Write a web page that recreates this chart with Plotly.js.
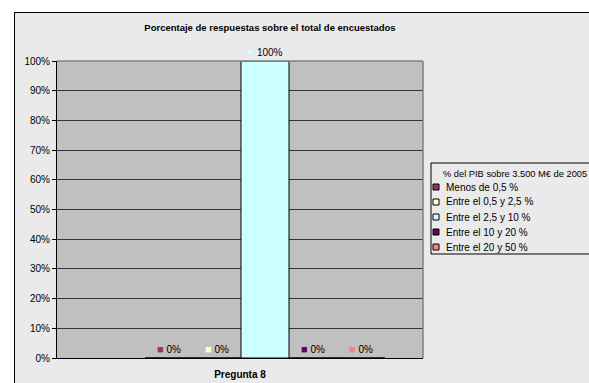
<!DOCTYPE html>
<html>
<head>
<meta charset="utf-8">
<script src="https://cdn.plot.ly/plotly-3.0.1.min.js"></script>
<style>
html,body{margin:0;padding:0;background:#ffffff;overflow:hidden;width:589px;height:383px;}
#chart{position:absolute;left:14px;top:12px;width:620px;height:380px;border-left:1px solid #000;border-top:1px solid #000;background:#eaeaea;}
</style>
</head>
<body>
<div id="chart"></div>
<script>
// ---- data ----
const categories = ["Pregunta 8"];
const seriesNames = ["Menos de 0,5 %", "Entre el 0,5 y 2,5 %", "Entre el 2,5 y 10 %", "Entre el 10 y 20 %", "Entre el 20 y 50 %"];
const seriesValues = [[0], [0], [100], [0], [0]];
const seriesColors = ["#993366", "#FFFFCC", "#CCFFFF", "#660066", "#FF8080"];
const yTickVals = [0, 10, 20, 30, 40, 50, 60, 70, 80, 90, 100];
const chartTitle = "Porcentaje de respuestas sobre el total de encuestados";
const legendTitle = "% del PIB sobre 3.500 M€ de 2005";

// ---- layout geometry (pixels in page) ----
const W = 620, H = 380, OX = 15, OY = 13;
const M = {l: 42, t: 48, r: W - 42 - 366, b: H - 48 - 297};
const PW = 366, PH = 297;
const px = x => (x - OX - M.l) / PW;
const py = y => 1 - (y - OY - M.t) / PH;
const FONT = "Arial, 'Liberation Sans', sans-serif";

const traces = seriesNames.map((name, i) => ({
  type: 'bar',
  name: name,
  x: categories,
  y: seriesValues[i],
  marker: {color: seriesColors[i], line: {color: '#000000', width: 1}},
  text: seriesValues[i].map(v => v + '%'),
  texttemplate: "<span style='color:" + seriesColors[i] + ";font-size:11px'>■</span> %{text}",
  textposition: 'outside',
  textfont: {family: FONT, size: 10, color: '#000'},
  cliponaxis: false,
  showlegend: false,
  hoverinfo: 'name+y'
}));

const shapes = [
  {type: 'line', xref: 'paper', yref: 'paper', x0: 0, x1: 1, y0: 1, y1: 1, line: {color: '#808080', width: 1.5}},
  {type: 'line', xref: 'paper', yref: 'paper', x0: 1, x1: 1, y0: 0, y1: 1, line: {color: '#808080', width: 1.5}},
  {type: 'rect', xref: 'paper', yref: 'paper', x0: px(431), x1: px(640), y0: py(254), y1: py(163), line: {color: '#000', width: 1}, fillcolor: 'rgba(0,0,0,0)'}
];
const annotations = [
  {xref: 'paper', yref: 'paper', x: px(441), y: py(174), xanchor: 'left', yanchor: 'middle', showarrow: false,
   text: legendTitle, font: {family: FONT, size: 9.3, color: '#000'}}
];
seriesNames.forEach((name, i) => {
  const cy = 187 + i * 15;
  shapes.push({type: 'rect', xref: 'paper', yref: 'paper', x0: px(433), x1: px(439), y0: py(cy + 3), y1: py(cy - 3),
    line: {color: '#000', width: 1}, fillcolor: seriesColors[i]});
  annotations.push({xref: 'paper', yref: 'paper', x: px(444), y: py(cy), xanchor: 'left', yanchor: 'middle', showarrow: false,
    text: name, font: {family: FONT, size: 10, color: '#000'}});
});

const layout = {
  width: W, height: H,
  margin: M,
  paper_bgcolor: '#eaeaea',
  plot_bgcolor: '#c0c0c0',
  font: {family: FONT, size: 10, color: '#000'},
  title: {text: '<b>' + chartTitle + '</b>', font: {family: FONT, size: 9.5, color: '#000'},
          xref: 'paper', x: px(270), xanchor: 'center', yref: 'container', y: 1 - (28 - OY) / H, yanchor: 'middle'},
  barmode: 'group',
  bargap: 0.344,
  bargroupgap: 0,
  xaxis: {
    type: 'category',
    range: [-(265 - 57) / PW, (423 - 265) / PW],
    showticklabels: false,
    ticks: '',
    showgrid: false,
    showline: true, linecolor: '#000', linewidth: 1,
    zeroline: false,
    title: {text: '<b>Pregunta 8</b>', font: {family: FONT, size: 10, color: '#000'}, standoff: 12},
    fixedrange: true
  },
  yaxis: {
    range: [0, 100],
    tickvals: yTickVals,
    ticktext: yTickVals.map(v => v + '%'),
    ticks: 'outside', ticklen: 4, tickcolor: '#000', tickwidth: 1,
    showgrid: true, gridcolor: '#333333', gridwidth: 1,
    showline: true, linecolor: '#000', linewidth: 1,
    zeroline: false,
    tickfont: {family: FONT, size: 10, color: '#000'},
    fixedrange: true
  },
  shapes: shapes,
  annotations: annotations,
  showlegend: false
};

Plotly.newPlot('chart', traces, layout, {displayModeBar: false, staticPlot: true});
</script>
</body>
</html>
